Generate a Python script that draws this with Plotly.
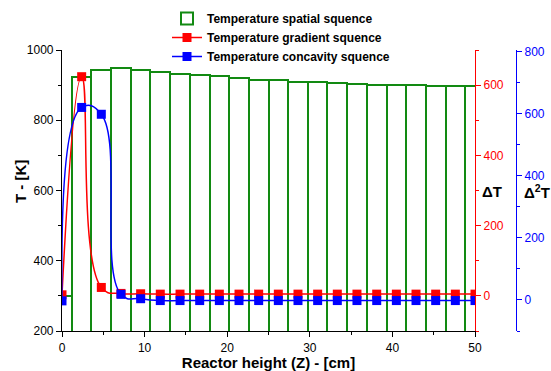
import plotly.graph_objects as go

# Reactor height positions (cm)
z_cm = [0, 2.38, 4.76, 7.14, 9.52, 11.9, 14.29, 16.67, 19.05, 21.43, 23.81,
        26.19, 28.57, 30.95, 33.33, 35.71, 38.1, 40.48, 42.86, 45.24, 47.62, 50]
# Temperature spatial sequence (K)
temp_K = [300, 924, 943, 948, 943, 937, 933, 929, 925, 921, 916,
          914, 910, 908, 905, 903, 901, 900, 899, 898, 897, 897]
# Temperature gradient sequence (ΔT)
grad_T = [3, 624, 24, 7, 6, 5, 5, 5, 5, 5, 5,
          5, 5, 5, 5, 5, 5, 5, 5, 5, 5, 5]
# Temperature concavity sequence (Δ²T)
conc_T = [-3, 620, 598, 18, 4, -2, -2, -2, -2, -2, -2,
          -2, -2, -2, -2, -2, -2, -2, -2, -2, -2, -2]

FONT = "Liberation Sans, Arial, sans-serif"
GREEN = "#128a12"
RED = "#ff0000"
BLUE = "#0000ff"

fig = go.Figure()
fig.add_trace(go.Bar(
    x=z_cm, y=temp_K, width=2.38,
    marker=dict(color="rgba(255,255,255,0)", line=dict(color=GREEN, width=2)),
    name="Temperature spatial squence", yaxis="y"))
fig.add_trace(go.Scatter(
    x=z_cm, y=grad_T, mode="lines+markers",
    line=dict(color=RED, width=1.5, shape="spline", smoothing=1.3),
    marker=dict(symbol="square", size=9, color=RED),
    name="Temperature gradient squence", yaxis="y2"))
fig.add_trace(go.Scatter(
    x=z_cm, y=conc_T, mode="lines+markers",
    line=dict(color=BLUE, width=1.5, shape="spline", smoothing=1.3),
    marker=dict(symbol="square", size=9, color=BLUE),
    name="Temperature concavity squence", yaxis="y3"))

W, H = 551, 371
L, R, T, B = 62, 35, 50, 40
pw = W - L - R
ph = H - T - B
xend = (475 - L) / pw

fig.update_layout(
    width=W, height=H,
    margin=dict(l=L, r=R, t=T, b=B, autoexpand=False),
    paper_bgcolor="white", plot_bgcolor="white",
    font=dict(family=FONT, size=12, color="black"),
    bargap=0,
    showlegend=True,
    legend=dict(x=167 / W, y=1 - 4 / H, xref="container", yref="container",
                xanchor="left", yanchor="top",
                bgcolor="rgba(0,0,0,0)",
                font=dict(family=FONT, size=12, color="black", weight="bold"),
                tracegroupgap=0, itemwidth=30),
    xaxis=dict(domain=[0, xend], range=[0, 50], showgrid=False, zeroline=False,
               showline=True, linecolor="black", linewidth=1.2,
               ticks="outside", ticklen=5, tickcolor="black", dtick=10,
               minor=dict(ticks="outside", ticklen=3, dtick=5, tickcolor="black"),
               title=dict(text="<b>Reactor height (Z) - [cm]</b>",
                          font=dict(size=15), standoff=3)),
    yaxis=dict(range=[200, 1000], showgrid=False, zeroline=False,
               showline=True, linecolor="black", linewidth=1.2,
               ticks="outside", ticklen=5, tickcolor="black", dtick=200,
               minor=dict(ticks="outside", ticklen=3, dtick=100, tickcolor="black")),
    yaxis2=dict(range=[-100, 700], overlaying="y", side="right", anchor="x",
                showgrid=False, zeroline=False,
                showline=True, linecolor=RED, linewidth=1.2,
                ticks="outside", ticklen=5, tickcolor=RED,
                tickvals=[0, 200, 400, 600],
                tickfont=dict(color=RED),
                minor=dict(ticks="outside", ticklen=3, tickvals=[-100, 100, 300, 500, 700],
                           tickcolor=RED)),
    yaxis3=dict(range=[-100, 805], overlaying="y", side="right", anchor="free",
                position=1.0, showgrid=False, zeroline=False,
                showline=True, linecolor=BLUE, linewidth=1.2,
                ticks="outside", ticklen=5, tickcolor=BLUE,
                tickvals=[0, 200, 400, 600, 800],
                tickfont=dict(color=BLUE),
                minor=dict(ticks="outside", ticklen=3, tickvals=[-100, 100, 300, 500, 700],
                           tickcolor=BLUE)),
    annotations=[
        dict(text="<b>T - [K]</b>", x=(20 - L) / pw, y=1 - (182 - T) / ph,
             xref="paper", yref="paper", showarrow=False, textangle=-90,
             xanchor="center", yanchor="middle",
             font=dict(size=15, color="black")),
        dict(text="<b>ΔT</b>", x=(492 - L) / pw, y=1 - (191 - T) / ph,
             xref="paper", yref="paper", showarrow=False,
             xanchor="center", yanchor="middle",
             font=dict(size=15, color="black")),
        dict(text="<b>Δ<sup>2</sup>T</b>", x=(537 - L) / pw, y=1 - (191 - T) / ph,
             xref="paper", yref="paper", showarrow=False,
             xanchor="center", yanchor="middle",
             font=dict(size=15, color="black")),
    ],
)

fig.write_html("out.html", config={"displayModeBar": False},
               post_script="document.body.style.margin='0';")
